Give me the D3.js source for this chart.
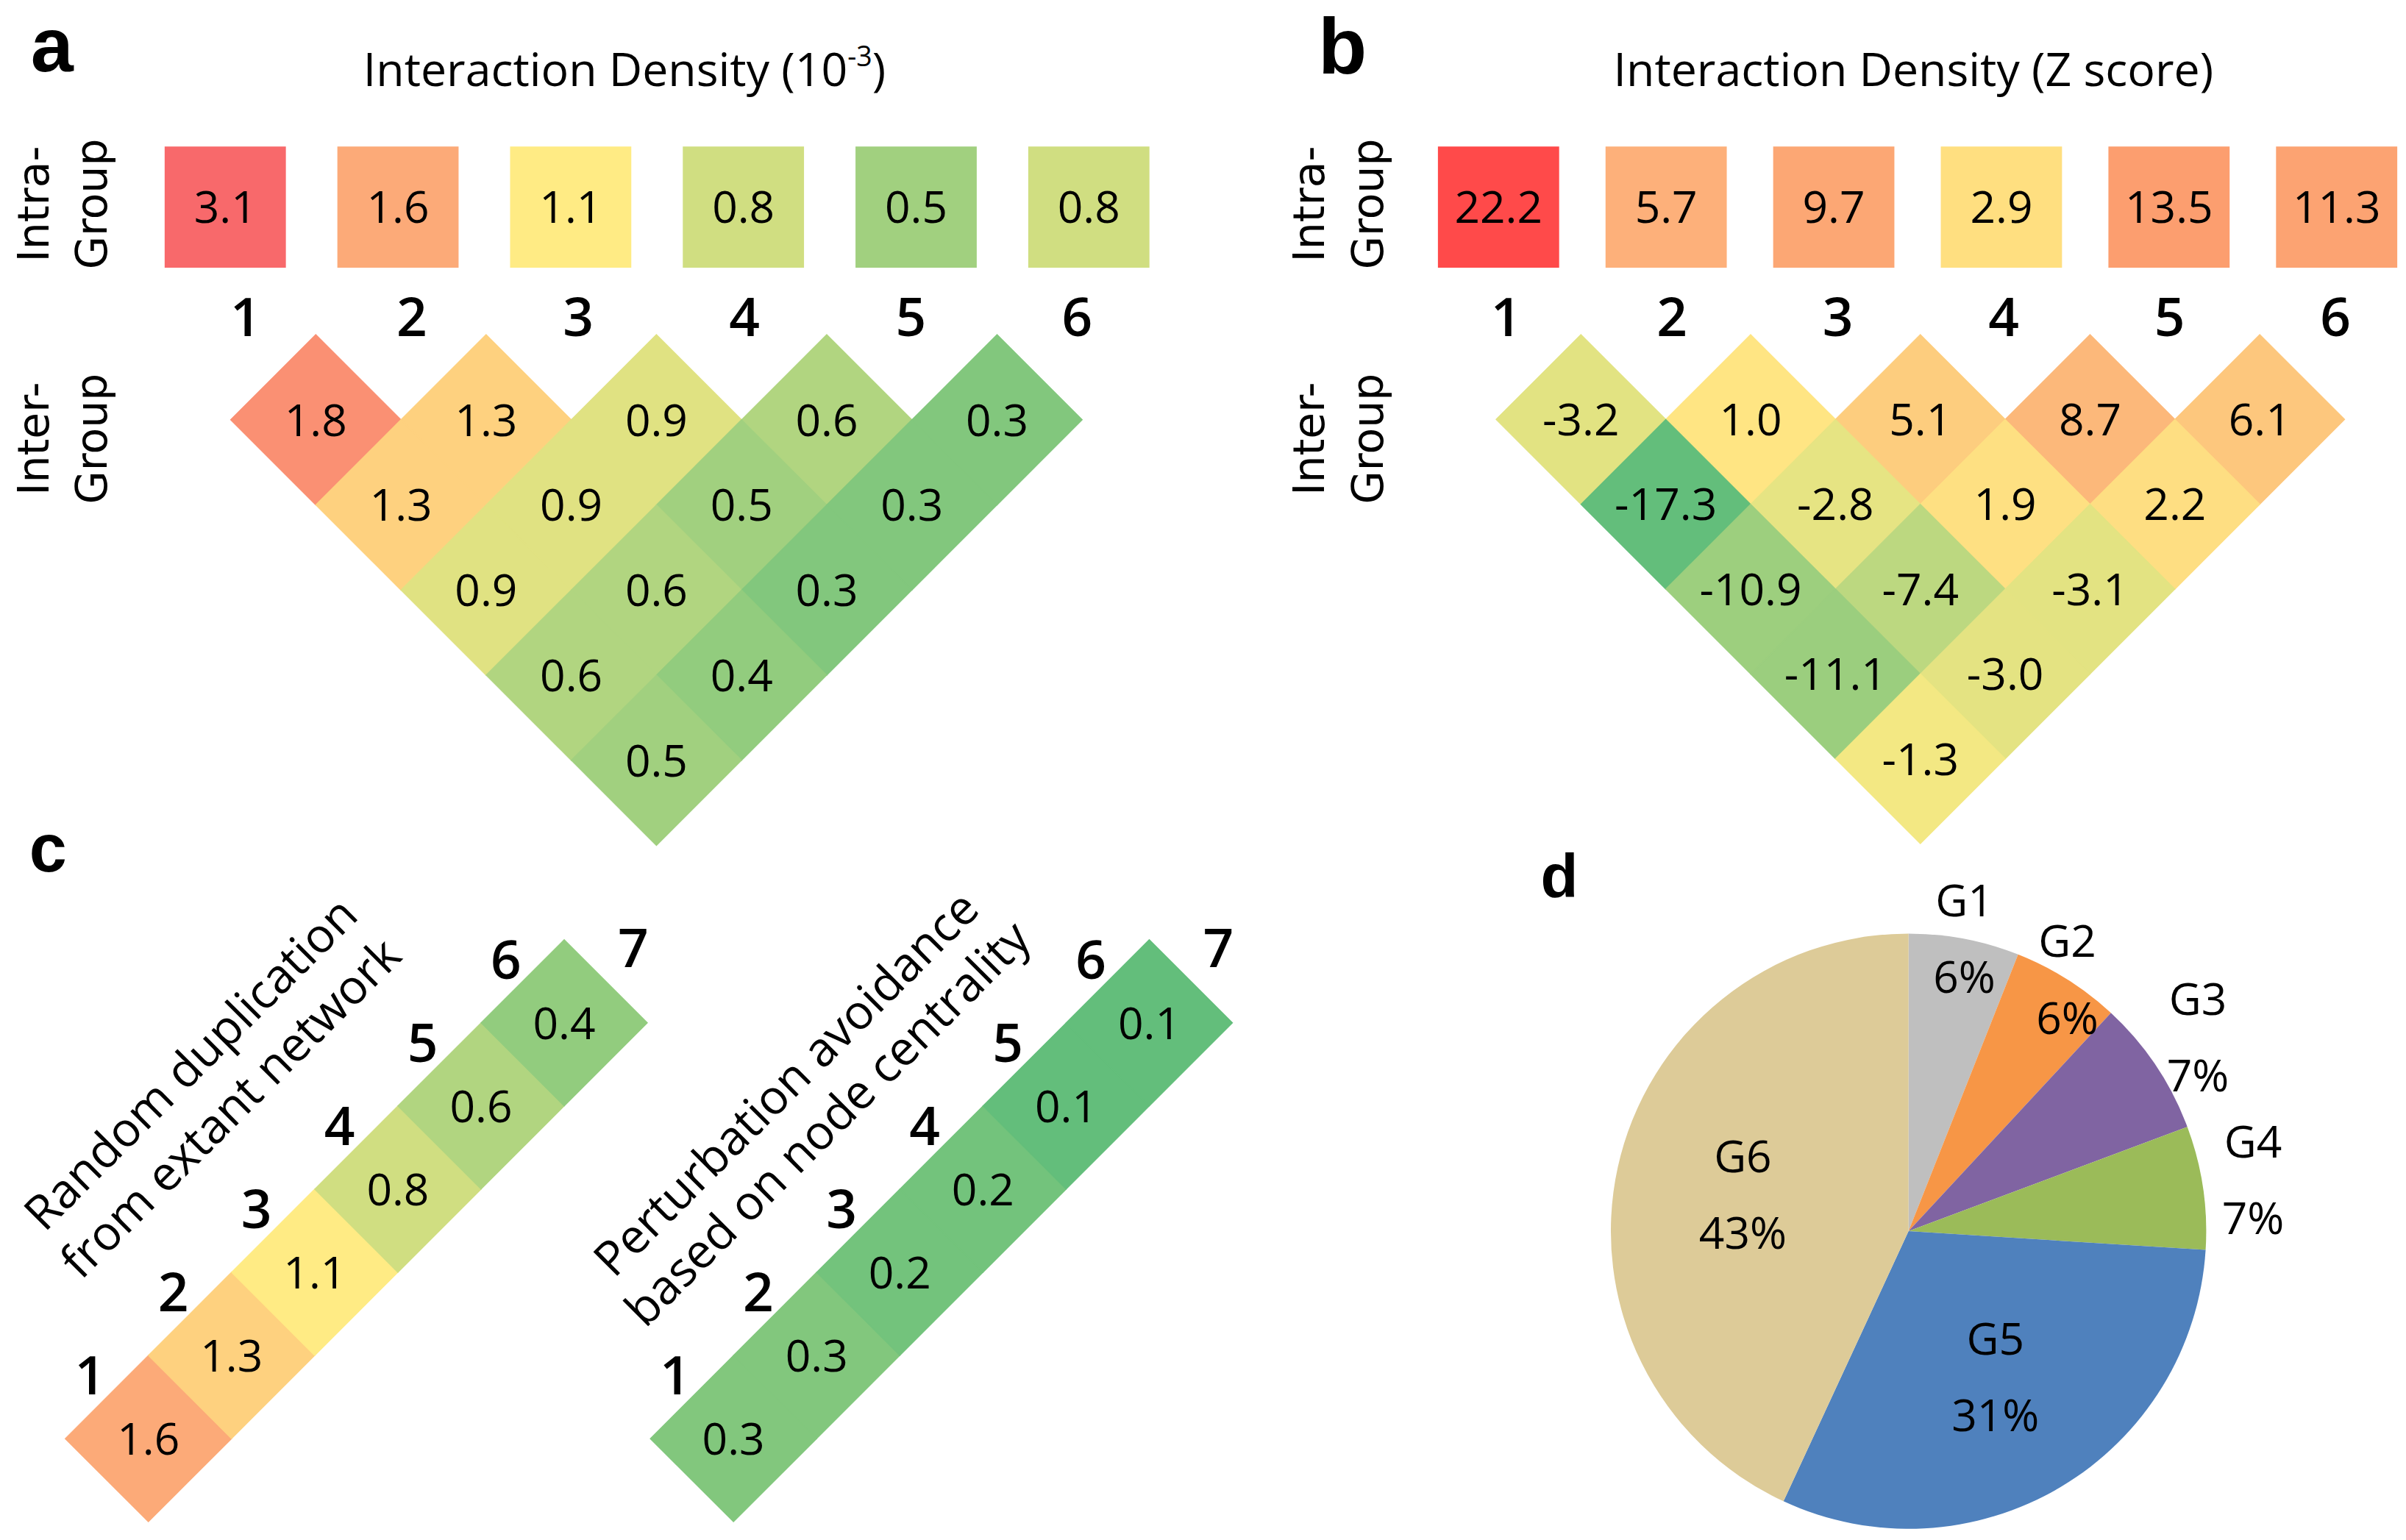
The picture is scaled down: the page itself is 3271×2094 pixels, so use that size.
<!DOCTYPE html>
<html>
<head>
<meta charset="utf-8">
<script src="https://cdn.jsdelivr.net/npm/d3@7"></script>
<style>
  html, body { margin: 0; padding: 0; background: #fff; }
  svg { display: block; }
</style>
</head>
<body>
<svg id="chart"></svg>
<script>
const W = 3271, H = 2094;
const S = W / 1568; // layout is worked out on a 1568px wide draft, then scaled

// ---- data ----
const groups = [1, 2, 3, 4, 5, 6];
// interaction density (10^-3)
const densityIntra = [3.1, 1.6, 1.1, 0.8, 0.5, 0.8];
// inter-group, one row per distance between groups (1..5)
const densityInter = [
  [1.8, 1.3, 0.9, 0.6, 0.3],
  [1.3, 0.9, 0.5, 0.3],
  [0.9, 0.6, 0.3],
  [0.6, 0.4],
  [0.5]
];
// interaction density (Z score)
const zIntra = [22.2, 5.7, 9.7, 2.9, 13.5, 11.3];
const zInter = [
  [-3.2, 1.0, 5.1, 8.7, 6.1],
  [-17.3, -2.8, 1.9, 2.2],
  [-10.9, -7.4, -3.1],
  [-11.1, -3.0],
  [-1.3]
];
// panel c
const stepLabels = [1, 2, 3, 4, 5, 6, 7];
const randomDuplication = [1.6, 1.3, 1.1, 0.8, 0.6, 0.4];
const perturbationAvoidance = [0.3, 0.3, 0.2, 0.2, 0.1, 0.1];
// panel d
const pieGroups = ["G1", "G2", "G3", "G4", "G5", "G6"];
const pieShare = [6.0, 5.9, 7.4, 6.7, 30.9, 43.1];
const pieColors = ["#BFBFBF", "#F79646", "#8064A2", "#9BBB59", "#4F81BD", "#DDCB98"];

// ---- colour scales (red / yellow / green) ----
const RED = "#F8696B", YEL = "#FFEB84", GRN = "#63BE7B";
const colDensity = d3.scaleLinear().domain([0.1, 1.1, 2.1]).range([GRN, YEL, RED]).clamp(true);
const colZInter = d3.scaleLinear().domain([-17.3, 0, 22.2]).range([GRN, YEL, RED]);
const colZIntra = d3.scaleLinear().domain([2.9, 5.7, 13.5, 22.2])
  .range(["#FFDF80", "#FDB07A", "#FC9E6F", "#FF4A4A"]);

const FONT = "'Open Sans', 'Noto Sans', sans-serif";

const svg = d3.select("#chart").attr("width", W).attr("height", H);
svg.append("rect").attr("width", W).attr("height", H).attr("fill", "#fff");
const root = svg.append("g").attr("transform", `scale(${S})`);

function diamond(cx, cy, h) {
  return `M${cx},${cy - h}L${cx + h},${cy}L${cx},${cy + h}L${cx - h},${cy}Z`;
}

function panelLetter(txt, x, y, size) {
  root.append("text").attr("x", x).attr("y", y)
    .attr("font-family", "'Liberation Sans', Arial, sans-serif")
    .attr("font-weight", "bold").attr("font-size", size)
    .text(txt);
}

function sideLabel(g, cx, cy, lines) {
  const t = g.append("text")
    .attr("transform", `translate(${cx},${cy}) rotate(-90)`)
    .attr("font-family", "'DejaVu Sans', Verdana, sans-serif")
    .attr("font-size", 28).attr("text-anchor", "middle");
  lines.forEach((l, i) => {
    t.append("tspan").attr("x", 0).attr("y", (i - 0.5) * 38).attr("dy", "0.36em").text(l);
  });
}

// triangle heat map: intra boxes on top, inter-group diamonds below
function drawTriangle(cfg) {
  const g = root.append("g");

  // title
  const t = g.append("text").attr("x", cfg.titleX).attr("y", 56)
    .attr("text-anchor", "middle").attr("font-family", FONT).attr("font-size", 30);
  t.append("tspan").text(cfg.title);
  if (cfg.sup) {
    t.append("tspan").attr("font-size", 18).attr("dy", -13).text(cfg.sup);
    t.append("tspan").attr("dy", 13).text(")");
  }

  sideLabel(g, cfg.sideX, 133, ["Intra-", "Group"]);
  sideLabel(g, cfg.sideX, 286, ["Inter-", "Group"]);

  // intra-group boxes
  const bx = d3.scaleLinear().domain([1, 6]).range(cfg.boxRange);
  const box = 79, boxCy = 135;
  const boxes = g.selectAll(".box").data(cfg.intra).join("g").attr("class", "box");
  boxes.append("rect")
    .attr("x", (d, i) => bx(groups[i]) - box / 2).attr("y", boxCy - box / 2)
    .attr("width", box).attr("height", box)
    .attr("fill", d => cfg.colIntra(d));
  boxes.append("text")
    .attr("x", (d, i) => bx(groups[i])).attr("y", boxCy).attr("dy", "0.36em")
    .attr("text-anchor", "middle").attr("font-family", FONT).attr("font-size", 29)
    .text(d => d.toFixed(1));

  // group numbers
  const lx = d3.scaleLinear().domain([1, 6]).range(cfg.labelRange);
  g.selectAll(".glab").data(groups).join("text").attr("class", "glab")
    .attr("x", d => lx(d)).attr("y", 219)
    .attr("text-anchor", "middle").attr("font-family", FONT)
    .attr("font-weight", 600).attr("font-size", 35)
    .text(d => d);

  // inter-group diamonds
  const gx = d3.scaleLinear().domain([1, 6]).range(cfg.gxRange);
  const h = (gx(2) - gx(1)) / 2;
  const gy = d3.scaleLinear().domain([0, 5]).range([218.1, 218.1 + 5 * h]);
  const cells = [];
  cfg.inter.forEach((row, r) => row.forEach((v, c) => {
    const i = groups[c], j = groups[c + r + 1];
    cells.push({ v, cx: (gx(i) + gx(j)) / 2, cy: gy(r + 1) });
  }));
  const dg = g.selectAll(".cell").data(cells).join("g").attr("class", "cell");
  dg.append("path")
    .attr("d", d => diamond(d.cx, d.cy, h))
    .attr("fill", d => cfg.colInter(d.v))
    .attr("stroke", d => cfg.colInter(d.v)).attr("stroke-width", 0.6);
  dg.append("text")
    .attr("x", d => d.cx).attr("y", d => d.cy).attr("dy", "0.36em")
    .attr("text-anchor", "middle").attr("font-family", FONT).attr("font-size", 29)
    .text(d => d.v.toFixed(1));
}

drawTriangle({
  title: "Interaction Density (10", sup: "-3", titleX: 407, sideX: 40.5,
  boxRange: [146.8, 709.6], labelRange: [160, 702], gxRange: [150.3, 705.3],
  intra: densityIntra, inter: densityInter, colIntra: colDensity, colInter: colDensity
});
drawTriangle({
  title: "Interaction Density (Z score)", titleX: 1247, sideX: 872,
  boxRange: [976.6, 1522.8], labelRange: [981.6, 1522], gxRange: [975, 1528],
  intra: zIntra, inter: zInter, colIntra: colZIntra, colInter: colZInter
});

// ---- panel c: diagonal strips ----
function drawStrip(values, x0, captionPos, caption) {
  const g = root.append("g");
  const h = 54.2;
  const cx = d3.scaleLinear().domain([0, 1]).range([x0, x0 + h]);
  const cy = d3.scaleLinear().domain([0, 1]).range([937.7, 937.7 - h]);
  const cell = g.selectAll(".sc").data(values).join("g").attr("class", "sc");
  cell.append("path")
    .attr("d", (d, k) => diamond(cx(k), cy(k), h))
    .attr("fill", d => colDensity(d))
    .attr("stroke", d => colDensity(d)).attr("stroke-width", 0.6);
  cell.append("text")
    .attr("x", (d, k) => cx(k)).attr("y", (d, k) => cy(k)).attr("dy", "0.36em")
    .attr("text-anchor", "middle").attr("font-family", FONT).attr("font-size", 29)
    .text(d => d.toFixed(1));

  const last = values.length - 1;
  g.selectAll(".sl").data(stepLabels).join("text").attr("class", "sl")
    .attr("x", (d, k) => k <= last ? cx(k) - 38 : cx(last) + 45)
    .attr("y", (d, k) => k <= last ? cy(k) - 41.5 : cy(last) - 49)
    .attr("dy", "0.36em")
    .attr("text-anchor", "middle").attr("font-family", FONT)
    .attr("font-weight", 600).attr("font-size", 35)
    .text(d => d);

  caption.forEach((line, i) => {
    g.append("text")
      .attr("transform", `translate(${captionPos[i][0]},${captionPos[i][1]}) rotate(-45)`)
      .attr("dy", "0.36em").attr("text-anchor", "middle")
      .attr("font-family", FONT).attr("font-size", 31)
      .text(line);
  });
}

drawStrip(randomDuplication, 96.7, [[124, 693], [150, 722]],
  ["Random duplication", "from extant network"]);
drawStrip(perturbationAvoidance, 478, [[512, 706], [539, 732]],
  ["Perturbation avoidance", "based on node centrality"]);

// ---- panel d: pie ----
{
  const r = 194, pcx = 1243.8, pcy = 802.5;
  const g = root.append("g").attr("transform", `translate(${pcx},${pcy})`);
  const arcs = d3.pie().sort(null)(pieShare);
  const arc = d3.arc().innerRadius(0).outerRadius(r);
  g.selectAll(".slice").data(arcs).join("path").attr("class", "slice")
    .attr("d", arc).attr("fill", (d, i) => pieColors[i]);

  const labelPos = d => {
    const a = (d.startAngle + d.endAngle) / 2;
    const rr = d.data < 10 ? (a < Math.PI / 4 ? r * 1.0 : r * 1.17) : r * 0.57;
    return [Math.sin(a) * rr, -Math.cos(a) * rr];
  };
  const lab = g.selectAll(".pl").data(arcs).join("text").attr("class", "pl")
    .attr("text-anchor", "middle").attr("font-family", FONT).attr("font-size", 29);
  lab.append("tspan")
    .attr("x", d => labelPos(d)[0]).attr("y", d => labelPos(d)[1] - 25).attr("dy", "0.36em")
    .text((d, i) => pieGroups[i]);
  lab.append("tspan")
    .attr("x", d => labelPos(d)[0]).attr("y", d => labelPos(d)[1] + 25).attr("dy", "0.36em")
    .text(d => Math.round(d.data) + "%");
}

panelLetter("a", 20, 46.5, 50);
panelLetter("b", 859, 48, 52);
panelLetter("c", 19, 568, 44);
panelLetter("d", 1004, 585, 40);
</script>
</body>
</html>
